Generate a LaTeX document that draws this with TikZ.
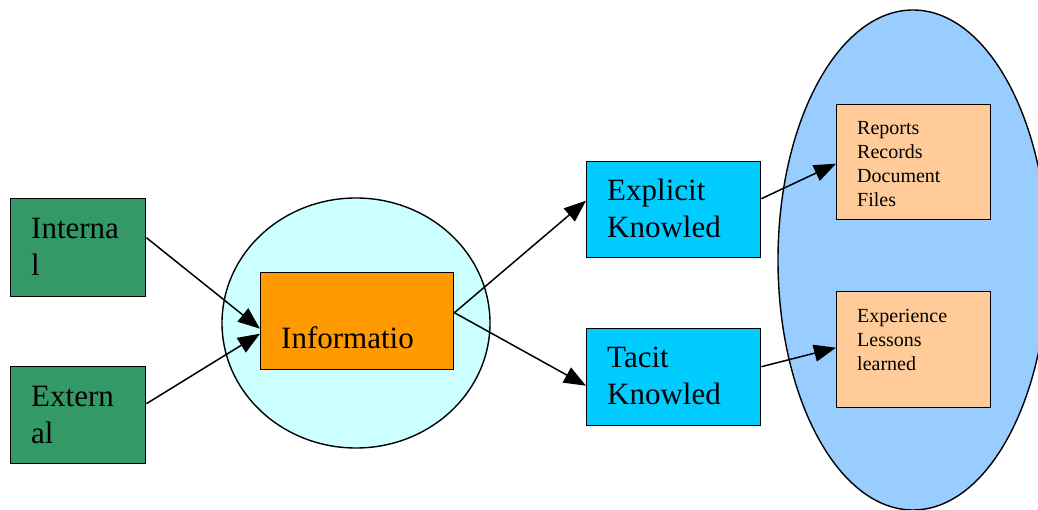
\documentclass[tikz,border=0pt]{standalone}
\usepackage{fontspec}
\setmainfont{Liberation Serif}
\usetikzlibrary{arrows.meta}
\definecolor{srcgreen}{HTML}{339966}
\definecolor{infocircle}{HTML}{CCFFFF}
\definecolor{infobox}{HTML}{FF9900}
\definecolor{knowbox}{HTML}{00CCFF}
\definecolor{storeellipse}{HTML}{99CCFF}
\definecolor{storebox}{HTML}{FFCC99}
\tikzset{
  box/.style={draw=black, line width=1.4pt, inner sep=0pt, anchor=north west},
  bigtext/.style={anchor=north west, inner sep=0pt, align=left,
    font=\fontsize{31}{37}\selectfont},
  smalltext/.style={anchor=north west, inner sep=0pt, align=left,
    font=\fontsize{20}{24}\selectfont},
  link/.style={line width=1.5pt, -{Triangle[length=22pt,width=17pt]}},
  shapeline/.style={draw=black, line width=1.4pt},
}
\newcommand{\bigstrut}{\rule{0pt}{25pt}}
\newcommand{\smallstrut}{\rule{0pt}{18pt}}
\begin{document}
\begin{tikzpicture}[x=1pt,y=-1pt]
\useasboundingbox (0,0) rectangle (1038,510);
\clip (0,0) rectangle (1038,510);

% background shapes
\filldraw[shapeline, fill=storeellipse] (913,260) ellipse [x radius=135, y radius=250];
\filldraw[shapeline, fill=infocircle] (356,323) ellipse [x radius=134, y radius=125];

% sources
\node[box, fill=srcgreen, minimum width=135pt, minimum height=98pt] (int) at (10,198) {};
\node[bigtext] (intT) at ([xshift=21pt, yshift=-15pt]int.north west) {\bigstrut Interna\\l};
\node[box, fill=srcgreen, minimum width=135pt, minimum height=97pt] (ext) at (10,366) {};
\node[bigtext] (extT) at ([xshift=21pt, yshift=-15pt]ext.north west) {\bigstrut Extern\\al};

% information
\node[box, fill=infobox, minimum width=193pt, minimum height=97pt] (info) at (260,272) {};
\node[bigtext] (infoT) at ([xshift=21pt, yshift=-51pt]info.north west) {\bigstrut Informatio};

% knowledge
\node[box, fill=knowbox, minimum width=174pt, minimum height=96pt] (expl) at (586,161) {};
\node[bigtext] (explT) at ([xshift=21pt, yshift=-14pt]expl.north west) {\bigstrut Explicit\\Knowled};
\node[box, fill=knowbox, minimum width=174pt, minimum height=97pt] (tac) at (586,328) {};
\node[bigtext] (tacT) at ([xshift=21pt, yshift=-14pt]tac.north west) {\bigstrut Tacit\\Knowled};

% stores
\node[box, fill=storebox, minimum width=154pt, minimum height=115pt] (rep) at (836,104) {};
\node[smalltext] (repT) at ([xshift=21pt, yshift=-12pt]rep.north west)
  {\smallstrut Reports\\Records\\Document\\Files};
\node[box, fill=storebox, minimum width=154pt, minimum height=116pt] (exp) at (836,291) {};
\node[smalltext] (expT) at ([xshift=21pt, yshift=-13pt]exp.north west)
  {\smallstrut Experience\\Lessons\\learned};

% connectors
\draw[link] ([yshift=10pt]int.east) -- ([yshift=-7.5pt]info.west);
\draw[link] ([yshift=11.5pt]ext.east) -- ([yshift=-12.5pt]info.west);
\draw[link] ([yshift=8.5pt]info.east) -- ([yshift=9pt]expl.west);
\draw[link] ([yshift=8.5pt]info.east) -- ([yshift=-8.5pt]tac.west);
\draw[link] ([yshift=11pt]expl.east) -- ([yshift=-1.5pt]rep.west);
\draw[link] ([yshift=10.5pt]tac.east) -- ([yshift=2pt]exp.west);
\end{tikzpicture}
\end{document}
